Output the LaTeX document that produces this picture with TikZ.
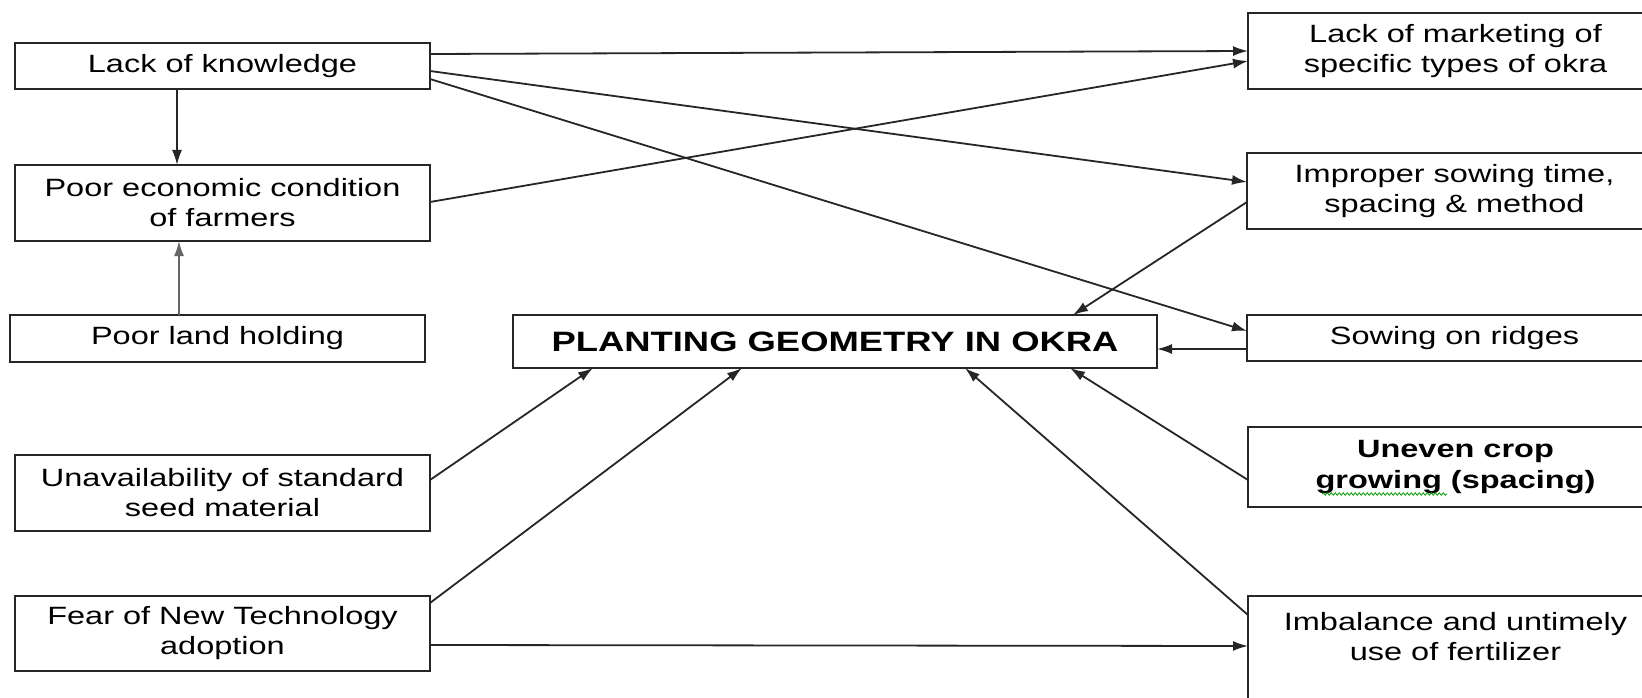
\documentclass[tikz,border=0pt]{standalone}
\usepackage{fontspec}
\setmainfont{Liberation Sans}
\newfontfamily\boxfont{Liberation Sans}[FakeStretch=1.3]
\usetikzlibrary{arrows.meta,calc,decorations.pathmorphing}
\tikzset{
  box/.style={draw=black!85, line width=2pt, rectangle, inner sep=0pt, outer sep=0pt,
    anchor=north west, minimum width=415pt, align=center,
    font=\boxfont\fontsize{25}{30}\selectfont, text=black},
  conn/.style={line width=1.8pt, draw=black!85, -{Latex[length=15pt,width=10pt]}},
}
\begin{document}
\begin{tikzpicture}[x=1pt,y=-1pt]
\clip (0,0) rectangle (1642,698);
\fill[white] (0,0) rectangle (1642,698);
% left column
\node[box, minimum height=46pt] (lk) at (15,43) {Lack of knowledge};
\node[box, minimum height=76pt] (pe) at (15,165) {Poor economic condition\\of farmers};
\node[box, minimum height=47pt] (pl) at (10,315) {Poor land holding};
\node[box, minimum height=76pt] (us) at (15,455) {Unavailability of standard\\seed material};
\node[box, minimum height=75pt] (fn) at (15,596) {Fear of New Technology\\adoption};
% centre
\node[box, minimum width=644pt, minimum height=53pt,
  font=\boxfont\bfseries\fontsize{28}{34}\selectfont] (pg) at (513,315) {PLANTING GEOMETRY IN OKRA};
% right column
\node[box, minimum height=76pt] (lm) at (1248,13) {Lack of marketing of\\specific types of okra};
\node[box, minimum height=76pt] (im) at (1247,153) {Improper sowing time,\\spacing \& method};
\node[box, minimum height=46pt] (sr) at (1247,315) {Sowing on ridges};
\node[box, minimum height=80pt, font=\boxfont\bfseries\fontsize{25}{31}\selectfont] (uc) at (1248,427) {Uneven crop\\growing (spacing)};
\node[box] (ib) at (1248,596) {\parbox[c][150pt][t]{415pt}{\centering\rule{0pt}{34pt}Imbalance and untimely\\use of fertilizer}};
% spell-check squiggle under "growing"
\draw[green!60!black, line width=0.8pt, decorate, decoration={snake, amplitude=1.2pt, segment length=4pt}]
  ($(uc.north west)+(74,67)$) -- ($(uc.north west)+(199,67)$);
% connectors
\draw[conn] ($(lk.south west)+(162,0)$) -- ($(pe.north west)+(162,0)$);
\draw[conn, draw=black!60] ($(pl.north west)+(169,0)$) -- ($(pe.south west)+(164,0)$);
\draw[conn] ($(lk.north east)+(0,11)$) -- ($(lm.north west)+(0,38)$);
\draw[conn] ($(lk.north east)+(0,28)$) -- ($(im.north west)+(0,29)$);
\draw[conn] ($(lk.north east)+(0,36)$) -- ($(sr.north west)+(0,16)$);
\draw[conn] ($(pe.north east)+(0,37)$) -- ($(lm.north west)+(0,48)$);
\draw[conn] ($(im.north west)+(0,49)$) -- ($(pg.north west)+(560,0)$);
\draw[conn] ($(sr.north west)+(0,34)$) -- ($(pg.north east)+(0,34)$);
\draw[conn] ($(uc.north west)+(0,53)$) -- ($(pg.south west)+(557,0)$);
\draw[conn] ($(ib.north west)+(0,19)$) -- ($(pg.south west)+(452,0)$);
\draw[conn] ($(us.north east)+(0,25)$) -- ($(pg.south west)+(80,0)$);
\draw[conn] ($(fn.north east)+(0,7)$) -- ($(pg.south west)+(229,0)$);
\draw[conn] ($(fn.north east)+(0,49)$) -- ($(ib.north west)+(0,50)$);
\end{tikzpicture}
\end{document}
